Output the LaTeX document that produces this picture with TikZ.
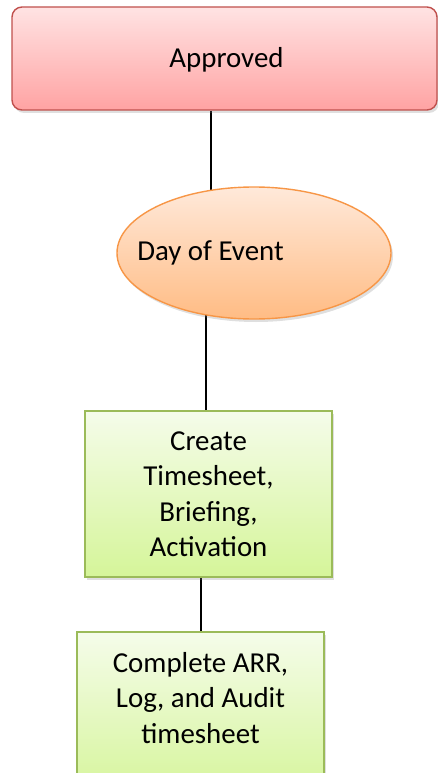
\documentclass[tikz,border=0pt]{standalone}
\usepackage{fontspec}
\setmainfont{Carlito}
\usetikzlibrary{shapes.geometric,shadows,backgrounds}
\definecolor{redtop}{HTML}{FFE3E3}
\definecolor{redbot}{HTML}{FFA3A3}
\definecolor{redline}{HTML}{C0504D}
\definecolor{orgtop}{HTML}{FFE9DA}
\definecolor{orgbot}{HTML}{FFBC84}
\definecolor{orgline}{HTML}{F79646}
\definecolor{grntop}{HTML}{F5FCEA}
\definecolor{grnbot}{HTML}{D5F599}
\definecolor{grnline}{HTML}{9BBB59}
\tikzset{
  lbl/.style={font=\fontsize{28.9}{35.5}\selectfont, align=center, inner sep=0pt},
  shad/.style={drop shadow={opacity=0.25, shadow xshift=2pt, shadow yshift=-3pt}},
  redbox/.style={shad, draw=redline, line width=1.4pt, rounded corners=10pt, top color=redtop, bottom color=redbot, inner sep=0pt},
  orgell/.style={shad, ellipse, draw=orgline, line width=1.4pt, top color=orgtop, bottom color=orgbot, inner sep=0pt},
  grnbox/.style={shad, draw=grnline, line width=1.4pt, top color=grntop, bottom color=grnbot, inner sep=0pt},
  conn/.style={black, line width=2pt}
}
\begin{document}
\begin{tikzpicture}[x=1pt,y=-1pt]
\useasboundingbox (0,0) rectangle (438,773);
\clip (0,0) rectangle (438,773);
\node[redbox, minimum width=425pt, minimum height=103pt] (app) at (224.5,58.5) {};
\node[lbl] (appText) at (226.5,60) {Approved};
\node[orgell, minimum width=274pt, minimum height=132pt] (doe) at (254,253) {};
\node[lbl] (doeText) at (210.5,253) {Day of Event};
\node[grnbox, minimum width=247pt, minimum height=166pt] (cts) at (208.5,494) {};
\node[lbl] (ctsText) at (208.5,494) {Create\\Timesheet,\\Briefing,\\Activation};
\node[grnbox, minimum width=247pt, minimum height=166pt] (cpl) at (200.5,715) {};
\node[lbl] (cplText) at (200.5,698) {Complete ARR,\\Log, and Audit\\timesheet};
\coordinate (l2) at (206,300);
\begin{pgfonlayer}{background}
\draw[conn] (app.south -| doeText.center) -- (doeText.center);
\draw[conn] (l2) -- (cts.north -| l2);
\draw[conn] (cts.south -| cpl.north) -- (cpl.north);
\end{pgfonlayer}
\end{tikzpicture}
\end{document}
